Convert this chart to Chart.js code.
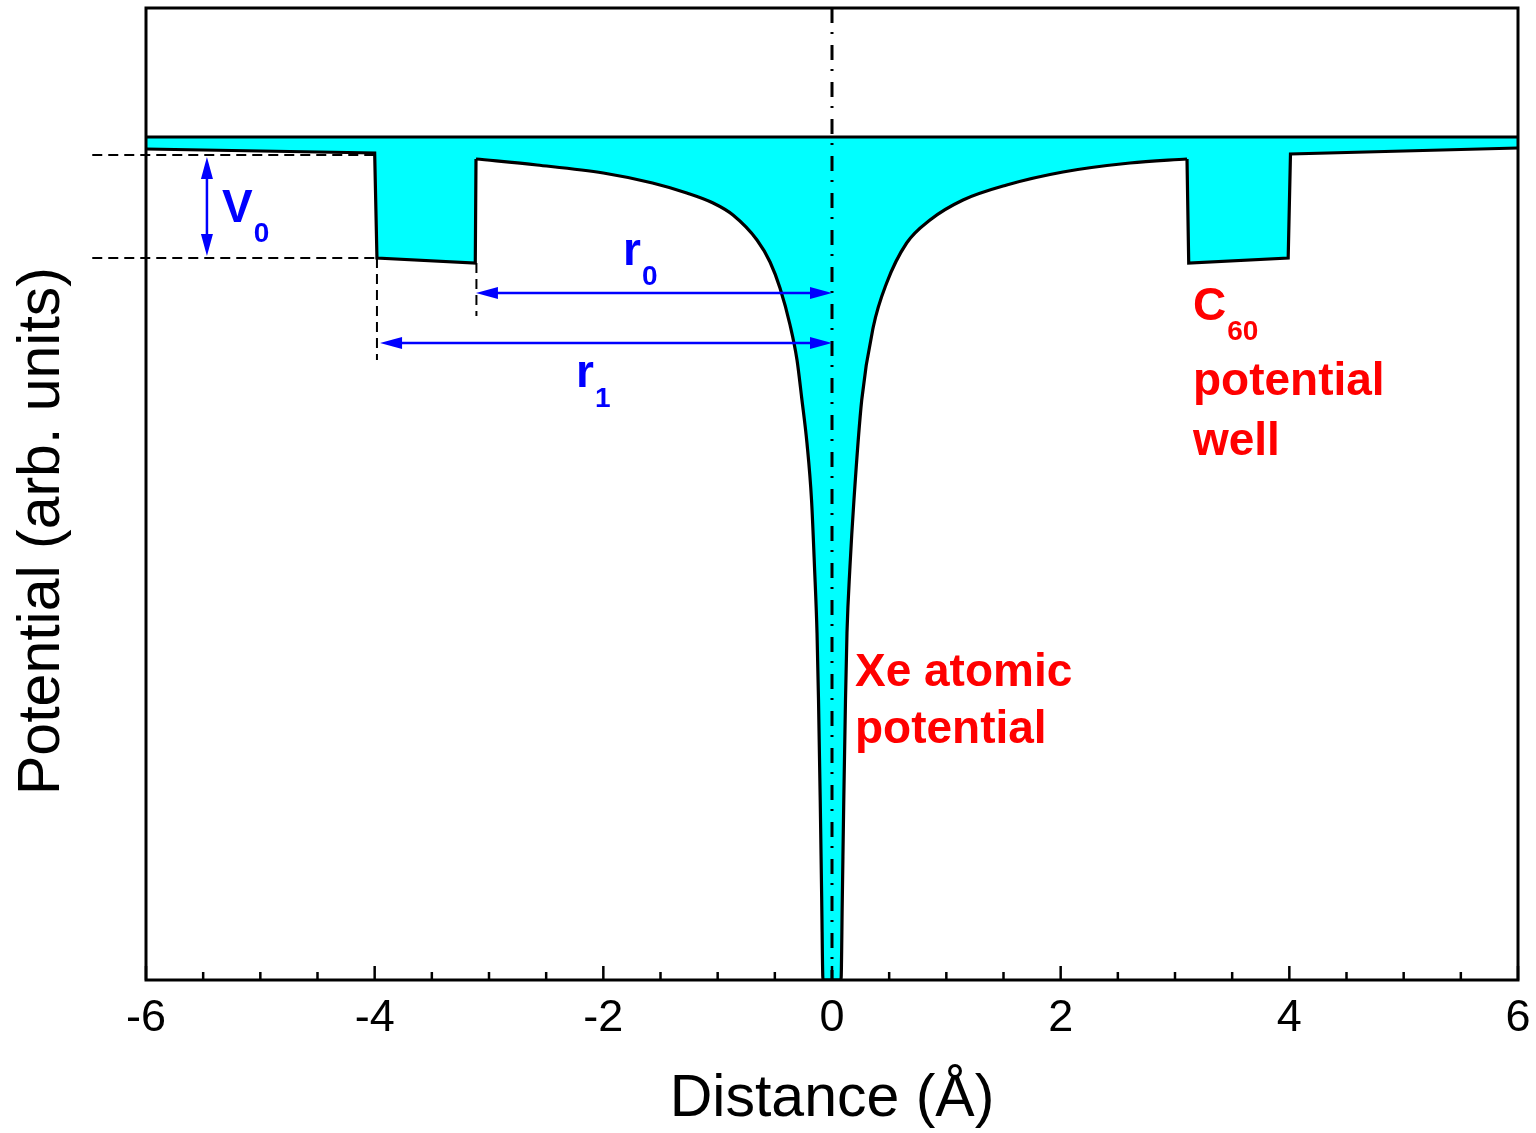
<!DOCTYPE html>
<html><head><meta charset="utf-8">
<script src="https://cdn.jsdelivr.net/npm/chart.js@4"></script>
<style>html,body{margin:0;padding:0;background:#fff}canvas{display:block}</style>
</head><body>
<canvas id="c" width="1536" height="1133" style="width:1536px;height:1133px"></canvas>
<script>
// ---- data ----
// left C60 well (straight segments)
const leftWellX = [-6.00, -4.00, -3.98, -3.12, -3.1137];
const leftWellY = [-0.12, -0.16, -1.21, -1.26, -0.22];
// Xe atomic potential core
const coreX = [-3.1137, -2.58, -2.00, -1.57, -1.27, -1.04, -0.866, -0.656, -0.542, -0.455, -0.367, -0.306, -0.265, -0.219, -0.179, -0.153, -0.131, -0.118, -0.103, -0.090, -0.079,
               0.079, 0.090, 0.103, 0.118, 0.131, 0.157, 0.192, 0.260, 0.361, 0.478, 0.653, 0.857, 1.146, 1.528, 2.020, 2.606, 3.105];
const coreY = [-0.22, -0.28, -0.36, -0.46, -0.56, -0.66, -0.78, -1.03, -1.25, -1.51, -1.88, -2.23, -2.61, -3.06, -3.63, -4.30, -4.96, -5.63, -6.63, -7.63, -8.43,
               -8.43, -7.63, -6.63, -5.63, -4.96, -4.30, -3.63, -2.63, -1.90, -1.46, -1.06, -0.83, -0.63, -0.48, -0.35, -0.26, -0.22];
// right C60 well (straight segments)
const rightWellX = [3.105, 3.12, 3.99, 4.01, 6.00];
const rightWellY = [-0.22, -1.26, -1.21, -0.17, -0.11];

const baselineX = [-6, 6];
const baselineY = [0, 0];
const centerX = [0, 0];
const centerY = [1.29, -8.43];
const xTickValues = [-6, -4, -2, 0, 2, 4, 6];
const minorTickValues = [-5.5, -5, -4.5, -3.5, -3, -2.5, -1.5, -1, -0.5, 0.5, 1, 1.5, 2.5, 3, 3.5, 4.5, 5, 5.5];
const yTitle = 'Potential (arb. units)';
const xTitle = 'Distance (Å)';

// dashed guide lines [x1, y1, x2, y2]
const guideLines = [
  [-6.47, -0.18, -4.00, -0.18],
  [-6.47, -1.21, -3.98, -1.21],
  [-3.98, -1.21, -3.98, -2.23],
  [-3.11, -1.26, -3.11, -1.79]
];
// double arrows [x1, y1, x2, y2]
const arrows = [
  [-5.467, -0.20, -5.467, -1.19],
  [-3.114, -1.56, 0, -1.56],
  [-3.953, -2.06, 0, -2.06]
];
// text labels
const labelText = ['V', 'r', 'r', 'C', 'potential', 'well', 'Xe atomic', 'potential'];
const labelSub  = ['0', '0', '1', '60', '', '', '', ''];
const labelX    = [-5.335, -1.828, -2.239, 3.157, 3.157, 3.157, 0.201, 0.201];
const labelY    = [-0.845, -1.28, -2.50, -1.83, -2.58, -3.18, -5.49, -6.06];
const labelColor = ['#0000FF', '#0000FF', '#0000FF', '#FF0000', '#FF0000', '#FF0000', '#FF0000', '#FF0000'];

const FONT = "'Liberation Sans', Arial, Helvetica, sans-serif";
Chart.defaults.font.family = FONT;
Chart.defaults.color = '#000';

const bgPlugin = {
  id: 'bg',
  beforeDraw(chart) {
    const c = chart.ctx;
    c.save(); c.fillStyle = '#fff'; c.fillRect(0, 0, chart.width, chart.height); c.restore();
  }
};

function head(c, x, y, dx, dy, len, half) {
  c.beginPath();
  c.moveTo(x, y);
  c.lineTo(x - dx * len - dy * half, y - dy * len + dx * half);
  c.lineTo(x - dx * len + dy * half, y - dy * len - dx * half);
  c.closePath();
  c.fill();
}

const overlayPlugin = {
  id: 'overlay',
  afterDraw(chart) {
    const c = chart.ctx, xs = chart.scales.x, ys = chart.scales.y, a = chart.chartArea;
    c.save();
    // guide lines
    c.strokeStyle = '#000'; c.lineWidth = 2; c.setLineDash([10, 6]);
    guideLines.forEach(g => {
      c.beginPath();
      c.moveTo(xs.getPixelForValue(g[0]), ys.getPixelForValue(g[1]));
      c.lineTo(xs.getPixelForValue(g[2]), ys.getPixelForValue(g[3]));
      c.stroke();
    });
    c.setLineDash([]);
    // arrows
    c.strokeStyle = '#0000FF'; c.fillStyle = '#0000FF'; c.lineWidth = 2.5;
    arrows.forEach(r => {
      const x1 = xs.getPixelForValue(r[0]), y1 = ys.getPixelForValue(r[1]);
      const x2 = xs.getPixelForValue(r[2]), y2 = ys.getPixelForValue(r[3]);
      const L = Math.hypot(x2 - x1, y2 - y1), dx = (x2 - x1) / L, dy = (y2 - y1) / L;
      c.beginPath(); c.moveTo(x1 + dx * 10, y1 + dy * 10); c.lineTo(x2 - dx * 10, y2 - dy * 10); c.stroke();
      head(c, x2, y2, dx, dy, 22, 6);
      head(c, x1, y1, -dx, -dy, 22, 6);
    });
    // frame
    c.strokeStyle = '#000'; c.lineWidth = 3;
    c.strokeRect(a.left, a.top, a.right - a.left, a.bottom - a.top);
    // inward ticks on bottom axis
    c.lineWidth = 2.5;
    xTickValues.forEach(v => {
      const px = xs.getPixelForValue(v);
      c.beginPath(); c.moveTo(px, a.bottom); c.lineTo(px, a.bottom - 14); c.stroke();
    });
    minorTickValues.forEach(v => {
      const px = xs.getPixelForValue(v);
      c.beginPath(); c.moveTo(px, a.bottom); c.lineTo(px, a.bottom - 8); c.stroke();
    });
    // y-axis title
    c.save();
    c.fillStyle = '#000';
    c.font = '59px ' + FONT;
    c.textAlign = 'center'; c.textBaseline = 'middle';
    c.translate(43, (a.top + a.bottom) / 2 + 37);
    c.rotate(-Math.PI / 2);
    c.fillText(yTitle, 0, 0);
    c.restore();
    // labels
    c.textBaseline = 'alphabetic'; c.textAlign = 'left';
    labelText.forEach((t, i) => {
      const px = xs.getPixelForValue(labelX[i]), py = ys.getPixelForValue(labelY[i]);
      c.fillStyle = labelColor[i];
      c.font = 'bold 46px ' + FONT;
      c.fillText(t, px, py);
      if (labelSub[i]) {
        const w = c.measureText(t).width;
        c.font = 'bold 28px ' + FONT;
        c.fillText(labelSub[i], px + w + 1, py + 20);
      }
    });
    c.restore();
  }
};

const pts = (xa, ya) => xa.map((x, i) => ({ x: x, y: ya[i] }));
const curveStyle = { borderColor: '#000', borderWidth: 3.2, backgroundColor: '#00FFFF', fill: { value: 0 },
                     pointRadius: 0, borderJoinStyle: 'miter', order: 3 };

new Chart(document.getElementById('c').getContext('2d'), {
  type: 'line',
  data: {
    datasets: [
      Object.assign({ label: 'left well', data: pts(leftWellX, leftWellY), tension: 0 }, curveStyle),
      Object.assign({ label: 'Xe core', data: pts(coreX, coreY), cubicInterpolationMode: 'monotone' }, curveStyle),
      Object.assign({ label: 'right well', data: pts(rightWellX, rightWellY), tension: 0 }, curveStyle),
      { label: 'baseline', data: pts(baselineX, baselineY),
        borderColor: '#000', borderWidth: 3, pointRadius: 0, fill: false, order: 2 },
      { label: 'center', data: pts(centerX, centerY),
        borderColor: '#000', borderWidth: 3, borderDash: [15, 9, 2, 11], pointRadius: 0, fill: false, order: 1 }
    ]
  },
  options: {
    responsive: false, animation: false, devicePixelRatio: 1,
    layout: { padding: { top: 8, right: 18, left: 0, bottom: 0 } },
    plugins: { legend: { display: false }, tooltip: { enabled: false } },
    scales: {
      x: {
        type: 'linear', min: -6, max: 6,
        afterBuildTicks: s => { s.ticks = xTickValues.map(v => ({ value: v })); },
        ticks: { font: { size: 45 }, color: '#000', padding: 12, maxRotation: 0, autoSkip: false },
        grid: { display: false, drawTicks: false }, border: { display: false },
        title: { display: true, text: xTitle, font: { size: 59 }, color: '#000', padding: { top: 0, bottom: -2 } },
        afterFit: s => { s.height = 153; s.paddingLeft = 0; s.paddingRight = 0; }
      },
      y: {
        type: 'linear', min: -8.43, max: 1.29,
        ticks: { display: false },
        grid: { display: false, drawTicks: false }, border: { display: false },
        title: { display: false },
        afterFit: s => { s.width = 146; }
      }
    }
  },
  plugins: [bgPlugin, overlayPlugin]
});
</script>
</body></html>
